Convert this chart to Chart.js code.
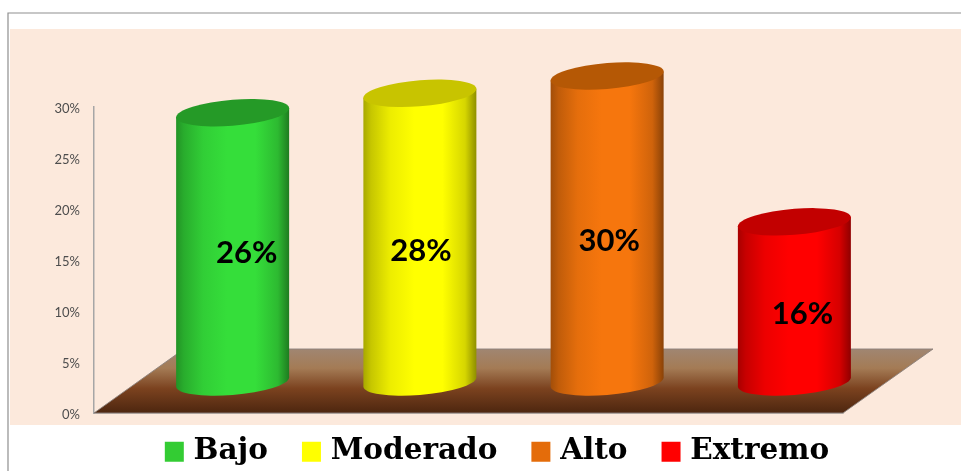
<!DOCTYPE html>
<html><head><meta charset="utf-8">
<style>html,body{margin:0;padding:0;background:#fff}#wrap{width:961px;height:471px;position:relative}</style>
<script src="https://cdn.jsdelivr.net/npm/chart.js@4"></script>
</head><body><div id="wrap"><canvas id="c" width="961" height="471"></canvas></div>
<script>
const categories = ['Bajo', 'Moderado', 'Alto', 'Extremo'];
const values = [26.4, 28.3, 30, 15.7];
const yTicks = [0, 5, 10, 15, 20, 25, 30];
const legendColors = ['#33cc33', '#ffff00', '#e46c0a', '#ff0000'];
const brightColors = [[53,222,58], [255,255,0], [246,118,13], [255,0,0]];
const topColors = ['#259a27', '#c8c400', '#b55805', '#c20000'];
const labelNudgeX = [14, 1, 2, 8];
const labelNudgeY = [7, 14, 13, 13];

const DEPTH_X = 90, DEPTH_Y = 64;
const shade = (c, f) => `rgb(${c.map(v => Math.round(v * f)).join(',')})`;

const panelPlugin = {
  id: 'panel',
  beforeDraw(chart) {
    const ctx = chart.ctx;
    ctx.save();
    ctx.fillStyle = '#ffffff'; ctx.fillRect(0, 0, 961, 471);
    ctx.fillStyle = '#fce9dc'; ctx.fillRect(10, 29, 951, 396);
    ctx.strokeStyle = '#8f8f8f'; ctx.lineWidth = 1.2;
    ctx.beginPath(); ctx.moveTo(961, 13); ctx.lineTo(8, 13); ctx.lineTo(8, 471); ctx.stroke();
    ctx.restore();
  },
  afterLayout(chart) {
    const l = chart.legend, pad = l.options.labels.padding;
    l.left = 38; l.right = 961; l.width = 923;
    l.top = 451 - 14 - pad; l.bottom = 471;
  }
};

const floorPlugin = {
  id: 'floor',
  beforeDatasetsDraw(chart) {
    const { ctx, scales: { x, y } } = chart;
    const y0 = y.getPixelForValue(0), yb = y0 - DEPTH_Y;
    const g = ctx.createLinearGradient(0, yb, 0, y0);
    g.addColorStop(0, '#a08672');
    g.addColorStop(0.3, '#a47b55');
    g.addColorStop(0.62, '#7b421f');
    g.addColorStop(1, '#4d260f');
    ctx.save();
    ctx.beginPath();
    ctx.moveTo(x.left, y0); ctx.lineTo(x.right, y0);
    ctx.lineTo(x.right + DEPTH_X, yb); ctx.lineTo(x.left + DEPTH_X, yb);
    ctx.closePath();
    ctx.fillStyle = g; ctx.fill();
    ctx.strokeStyle = 'rgba(140,130,125,0.9)'; ctx.lineWidth = 1; ctx.stroke();
    ctx.restore();
  }
};

const cylinderPlugin = {
  id: 'cylinders',
  beforeDatasetDraw(chart, args) {
    const { ctx } = chart;
    const pts = chart.getDatasetMeta(args.index).data;
    pts.forEach((bar, i) => {
      const rx = bar.width / 2, ry = 13, k = 4.5;
      const cx = bar.x + DEPTH_X / 2, top = bar.y - DEPTH_Y / 2 + 1, bot = bar.base - DEPTH_Y / 2 + 1;
      const c = brightColors[i];
      ctx.save();
      ctx.transform(1, -k / rx, 0, 1, cx, 0);
      const g = ctx.createLinearGradient(-rx, 0, rx, 0);
      g.addColorStop(0, shade(c, 0.66));
      g.addColorStop(0.07, shade(c, 0.78));
      g.addColorStop(0.24, shade(c, 0.93));
      g.addColorStop(0.45, shade(c, 1));
      g.addColorStop(0.7, shade(c, 1));
      g.addColorStop(0.9, shade(c, 0.84));
      g.addColorStop(1, shade(c, 0.56));
      ctx.beginPath();
      ctx.ellipse(0, bot, rx, ry, 0, 0, Math.PI);
      ctx.lineTo(-rx, top);
      ctx.lineTo(rx, top);
      ctx.closePath();
      ctx.fillStyle = g; ctx.fill();
      ctx.beginPath();
      ctx.ellipse(0, top, rx, ry, 0, 0, Math.PI * 2);
      ctx.fillStyle = topColors[i]; ctx.fill();
      ctx.restore();
    });
    return false;
  },
  afterDatasetsDraw(chart) {
    const { ctx } = chart;
    const pts = chart.getDatasetMeta(0).data;
    ctx.save();
    ctx.font = 'bold 31px Lato';
    ctx.fillStyle = '#000';
    ctx.textAlign = 'center'; ctx.textBaseline = 'middle';
    pts.forEach((bar, i) => {
      const mid = (bar.y + bar.base) / 2 - DEPTH_Y / 2;
      ctx.fillText(Math.round(values[i]) + '%', bar.x + DEPTH_X / 2 + labelNudgeX[i], mid + labelNudgeY[i]);
    });
    ctx.restore();
  }
};

new Chart(document.getElementById('c'), {
  type: 'bar',
  data: {
    labels: categories,
    datasets: [{ data: values, backgroundColor: legendColors, barPercentage: 1, categoryPercentage: 0.6035 }]
  },
  options: {
    responsive: false,
    animation: false,
    layout: { padding: { left: 0, top: 107, right: 118, bottom: 57 } },
    scales: {
      x: {
        ticks: { display: false },
        grid: { display: false, drawTicks: false },
        border: { display: true, color: '#9a9a9a', width: 1.5 },
        afterFit(s) { s.height = 0; }
      },
      y: {
        min: 0, max: 30,
        afterBuildTicks(s) { s.ticks = yTicks.map(v => ({ value: v })); },
        ticks: { callback: v => v + '%', color: '#4d4d4d', font: { family: 'Lato', size: 13 }, padding: 14, labelOffset: 2 },
        grid: { display: false, drawTicks: false },
        border: { display: true, color: '#a6a6a6', width: 1.5 },
        afterFit(s) { s.width = 94; }
      }
    },
    plugins: {
      tooltip: { enabled: false },
      legend: {
        position: 'bottom',
        maxHeight: 1,
        labels: {
          boxWidth: 9, boxHeight: 10, padding: 39, color: '#000',
          font: { family: 'DejaVu Serif', size: 29.5, weight: 'bold' },
          generateLabels: () => categories.map((t, i) => ({
            text: t, fillStyle: legendColors[i], strokeStyle: legendColors[i], lineWidth: 10, index: i, datasetIndex: 0
          }))
        }
      }
    }
  },
  plugins: [panelPlugin, floorPlugin, cylinderPlugin]
});
</script></body></html>
